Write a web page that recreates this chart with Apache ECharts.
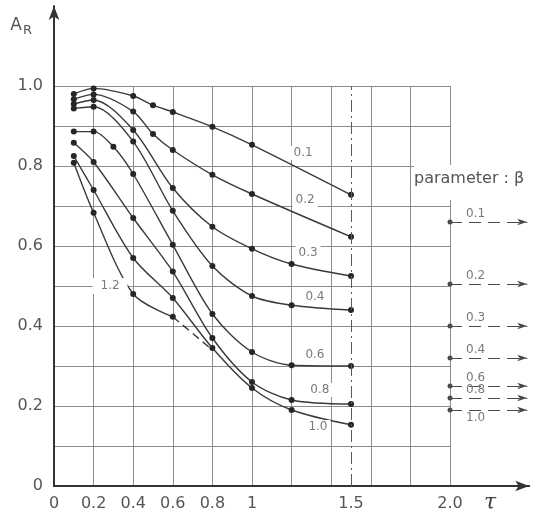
<!DOCTYPE html>
<html>
<head>
<meta charset="utf-8">
<script src="https://cdn.jsdelivr.net/npm/echarts@6.0.0/dist/echarts.min.js"></script>
<style>
html, body { margin: 0; padding: 0; background: #fff; }
#chart { width: 538px; height: 521px; }
</style>
</head>
<body>
<div id="chart"></div>
<script>
// parameter beta, one curve each
const betas = ['0.1', '0.2', '0.3', '0.4', '0.6', '0.8', '1.0', '1.2'];

// [tau, A_R]
const curve01 = [[0.1, 0.98], [0.2, 0.994], [0.4, 0.975], [0.5, 0.952], [0.6, 0.935], [0.8, 0.898], [1.0, 0.853], [1.5, 0.728]];
const curve02 = [[0.1, 0.967], [0.2, 0.979], [0.4, 0.936], [0.5, 0.88], [0.6, 0.84], [0.8, 0.778], [1.0, 0.73], [1.5, 0.623]];
const curve03 = [[0.1, 0.955], [0.2, 0.965], [0.4, 0.89], [0.6, 0.745], [0.8, 0.648], [1.0, 0.593], [1.2, 0.555], [1.5, 0.525]];
const curve04 = [[0.1, 0.944], [0.2, 0.948], [0.4, 0.861], [0.6, 0.688], [0.8, 0.55], [1.0, 0.475], [1.2, 0.452], [1.5, 0.44]];
const curve06 = [[0.1, 0.886], [0.2, 0.886], [0.3, 0.848], [0.4, 0.78], [0.6, 0.603], [0.8, 0.43], [1.0, 0.335], [1.2, 0.302], [1.5, 0.30]];
const curve08 = [[0.1, 0.858], [0.2, 0.81], [0.4, 0.67], [0.6, 0.536], [0.8, 0.37], [1.0, 0.26], [1.2, 0.215], [1.5, 0.205]];
const curve10 = [[0.1, 0.825], [0.2, 0.74], [0.4, 0.57], [0.6, 0.47], [0.8, 0.345], [1.0, 0.245], [1.2, 0.19], [1.5, 0.153]];
const curve12 = [[0.1, 0.808], [0.2, 0.683], [0.4, 0.48], [0.6, 0.423]];
const curve12Dashed = [[0.6, 0.423], [0.8, 0.34]];

// limit values for tau -> infinity (arrows at the right), betas 0.1 .. 1.0
const asymptotes = [0.66, 0.505, 0.40, 0.32, 0.25, 0.22, 0.19];

const xTicks = [0, 0.2, 0.4, 0.6, 0.8, 1, 1.5, 2.0];
const xTickLabels = ['0', '0.2', '0.4', '0.6', '0.8', '1', '1.5', '2.0'];
const yTicks = [0, 0.2, 0.4, 0.6, 0.8, 1.0];
const yTickLabels = ['0', '0.2', '0.4', '0.6', '0.8', '1.0'];

var chart = echarts.init(document.getElementById('chart'));

const ink = '#3a3a3a';
const font = 'DejaVu Sans';

// where the curve names sit (tau, A)
const labelAt = [[1.258, 0.8325], [1.268, 0.715], [1.283, 0.5825], [1.318, 0.4725],
                 [1.318, 0.3275], [1.343, 0.24], [1.333, 0.1475], [0.283, 0.50]];

function pick(ticks, labels) {
    return (v) => {
        const i = ticks.findIndex(t => Math.abs(t - v) < 1e-6);
        return i >= 0 ? labels[i] : '';
    };
}

const series = [curve01, curve02, curve03, curve04, curve06, curve08, curve10, curve12].map((pts, i) => ({
    name: betas[i],
    type: 'line',
    xAxisIndex: 1,
    yAxisIndex: 1,
    data: pts,
    smooth: 0.3,
    symbol: 'circle',
    symbolSize: 6,
    itemStyle: { color: '#262626' },
    lineStyle: { color: ink, width: 1.4 },
    z: 3,
    markPoint: {
        symbol: 'circle',
        symbolSize: 0,
        silent: true,
        label: {
            show: true,
            position: 'inside',
            formatter: betas[i],
            color: '#7a7a7a',
            fontSize: 12,
            fontFamily: font,
            backgroundColor: '#fff',
            padding: i === 7 ? [2, 8] : [1, 3]
        },
        data: [{ coord: labelAt[i] }]
    }
}));

series.push({
    name: '1.2 cont',
    type: 'line',
    xAxisIndex: 1,
    yAxisIndex: 1,
    data: curve12Dashed,
    symbol: 'none',
    lineStyle: { color: ink, width: 1.4, type: [8, 5] },
    z: 3
});

// tau = 1.5 reference line + limit arrows on the right
series.push({
    name: 'marks',
    type: 'line',
    xAxisIndex: 1,
    yAxisIndex: 1,
    data: [],
    markLine: {
        silent: true,
        symbol: 'none',
        lineStyle: { color: '#5a5a5a', width: 1, type: [12, 4, 2, 4] },
        label: { show: false },
        data: [[{ coord: [1.5, 0] }, { coord: [1.5, 1.0] }]]
    }
});

series.push({
    name: 'limits',
    type: 'line',
    xAxisIndex: 1,
    yAxisIndex: 1,
    data: [],
    markLine: {
        silent: true,
        symbol: ['circle', 'arrow'],
        symbolSize: [5, 10],
        lineStyle: { color: '#4a4a4a', width: 1.2, type: [12, 7] },
        itemStyle: { color: '#333' },
        data: asymptotes.map((v, i) => [
            {
                coord: [2.0, v],
                label: {
                    show: true,
                    formatter: betas[i],
                    position: i === 6 ? 'insideStartBottom' : 'insideStartTop',
                    distance: [16, 2],
                    color: '#7a7a7a',
                    fontSize: 12,
                    fontFamily: font
                }
            },
            { coord: [2.39, v] }
        ])
    }
});

var option = {
    animation: false,
    backgroundColor: '#fff',
    grid: [
        { left: 54, bottom: 35, width: 396, height: 400 },
        { left: 54, bottom: 35, width: 475.2, height: 480 }
    ],
    xAxis: [
        {
            gridIndex: 0, type: 'value', min: 0, max: 2.0, interval: 0.2,
            axisLine: { show: false }, axisTick: { show: false }, axisLabel: { show: false },
            splitLine: { show: true, lineStyle: { color: '#8c8c8c', width: 1 } }
        },
        {
            gridIndex: 1, type: 'value', min: 0, max: 2.4,
            name: 'τ',
            nameLocation: 'end',
            nameGap: -39,
            nameTextStyle: {
                fontFamily: 'DejaVu Serif', fontStyle: 'italic', fontSize: 22, color: '#444',
                align: 'center', verticalAlign: 'top', padding: [6, 0, 0, 0]
            },
            axisLine: { show: true, symbol: ['none', 'arrow'], symbolSize: [8, 14], lineStyle: { color: '#333', width: 2 } },
            axisTick: { show: false },
            splitLine: { show: false },
            axisLabel: {
                customValues: xTicks,
                formatter: pick(xTicks, xTickLabels),
                color: '#555', fontSize: 16, fontFamily: font, margin: 10
            }
        }
    ],
    yAxis: [
        {
            gridIndex: 0, type: 'value', min: 0, max: 1.0, interval: 0.1,
            axisLine: { show: false }, axisTick: { show: false }, axisLabel: { show: false },
            splitLine: { show: true, lineStyle: { color: '#8c8c8c', width: 1 } }
        },
        {
            gridIndex: 1, type: 'value', min: 0, max: 1.2,
            name: '{a|A}{r|R}',
            nameLocation: 'end',
            nameGap: -20,
            nameTextStyle: {
                align: 'right', verticalAlign: 'middle', padding: [0, 22, 0, 0],
                rich: {
                    a: { fontSize: 17, color: '#555', fontFamily: font },
                    r: { fontSize: 13, color: '#555', fontFamily: font, padding: [10, 0, 0, 1] }
                }
            },
            axisLine: { show: true, symbol: ['none', 'arrow'], symbolSize: [8, 14], lineStyle: { color: '#333', width: 2 } },
            axisTick: { show: false },
            splitLine: { show: false },
            axisLabel: {
                customValues: yTicks,
                formatter: pick(yTicks, yTickLabels),
                color: '#555', fontSize: 16, fontFamily: font, margin: 11
            }
        }
    ],
    graphic: [
        {
            type: 'text',
            left: 414,
            top: 165,
            z: 100,
            style: {
                text: 'parameter : β',
                font: '16px "DejaVu Sans"',
                fill: '#555',
                backgroundColor: '#fff',
                padding: [6, 0, 13, 0]
            }
        }
    ],
    series: series
};

option && chart.setOption(option);
</script>
</body>
</html>
